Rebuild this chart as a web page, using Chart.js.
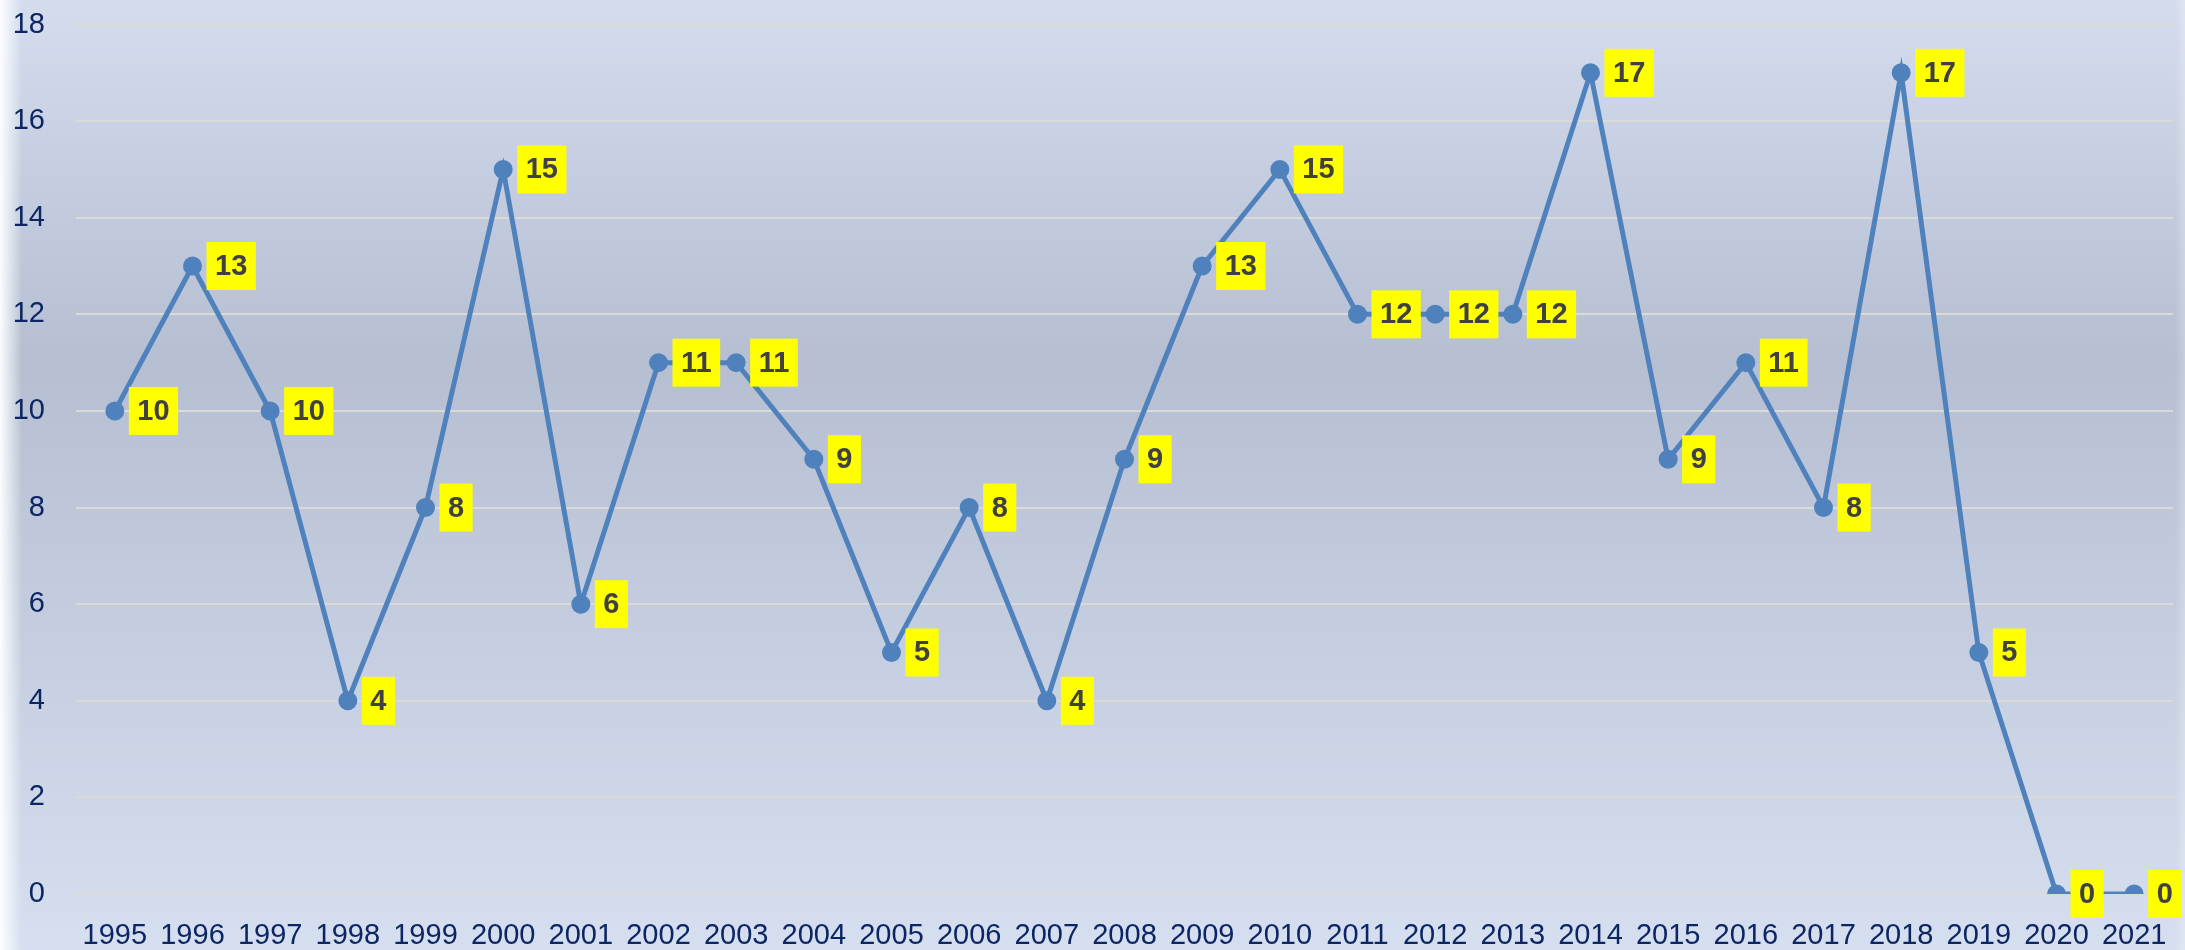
<!DOCTYPE html>
<html>
<head>
<meta charset="utf-8">
<script src="https://cdn.jsdelivr.net/npm/chart.js@4"></script>
<style>
  html, body { margin: 0; padding: 0; background: #d3dcec; }
  #wrap { width: 2185px; height: 950px; position: relative; }
</style>
</head>
<body>
<div id="wrap"><canvas id="lineChart" width="2185" height="950"></canvas></div>
<script>
const years = ['1995', '1996', '1997', '1998', '1999', '2000', '2001', '2002', '2003', '2004',
  '2005', '2006', '2007', '2008', '2009', '2010', '2011', '2012', '2013', '2014',
  '2015', '2016', '2017', '2018', '2019', '2020', '2021'];
const counts = [10, 13, 10, 4, 8, 15, 6, 11, 11, 9, 5, 8, 4, 9, 13, 15, 12, 12, 12, 17, 9, 11, 8, 17, 5, 0, 0];
const yTicks = [0, 2, 4, 6, 8, 10, 12, 14, 16, 18];

// background: vertical gradient + white fade on the left edge
const backgroundPlugin = {
  id: 'bg',
  beforeDraw(chart) {
    const ctx = chart.ctx;
    const w = chart.width, h = chart.height;
    ctx.save();
    const g = ctx.createLinearGradient(0, 0, 0, h);
    g.addColorStop(0, '#d4dcee');
    g.addColorStop(0.38, '#b5bfd1');
    g.addColorStop(1, '#d6dff0');
    ctx.fillStyle = g;
    ctx.fillRect(0, 0, w, h);
    const e = ctx.createLinearGradient(0, 0, 22, 0);
    e.addColorStop(0, 'rgba(255,255,255,0.95)');
    e.addColorStop(1, 'rgba(255,255,255,0)');
    ctx.fillStyle = e;
    ctx.fillRect(0, 0, 22, h);
    const r = ctx.createLinearGradient(w - 10, 0, w, 0);
    r.addColorStop(0, 'rgba(255,255,255,0)');
    r.addColorStop(1, 'rgba(255,255,255,0.25)');
    ctx.fillStyle = r;
    ctx.fillRect(w - 10, 0, 10, h);
    ctx.restore();
  }
};

// yellow value boxes to the right of each point
const valueLabels = {
  id: 'valueLabels',
  afterDatasetsDraw(chart) {
    const ctx = chart.ctx;
    const meta = chart.getDatasetMeta(0);
    ctx.save();
    ctx.font = 'bold 29px "Liberation Sans", Arial, sans-serif';
    ctx.textBaseline = 'middle';
    ctx.textAlign = 'left';
    meta.data.forEach((pt, i) => {
      const txt = String(chart.data.datasets[0].data[i]);
      const tw = ctx.measureText(txt).width;
      const bx = pt.x + 14;
      const bw = tw + 17;
      const bh = 48;
      ctx.fillStyle = '#ffff00';
      ctx.fillRect(bx, pt.y - bh / 2, bw, bh);
      ctx.fillStyle = '#404040';
      ctx.fillText(txt, bx + 8.5, pt.y + 1);
    });
    ctx.restore();
  }
};

new Chart(document.getElementById('lineChart'), {
  type: 'line',
  data: {
    labels: years,
    datasets: [{
      data: counts,
      borderColor: '#4f81bd',
      backgroundColor: '#4f81bd',
      borderWidth: 5,
      pointRadius: 7,
      pointHoverRadius: 7,
      tension: 0
    }]
  },
  options: {
    responsive: false,
    animation: false,
    events: [],
    layout: { padding: { top: 24.5, right: 6, left: 0, bottom: 0 } },
    plugins: {
      legend: { display: false },
      tooltip: { enabled: false }
    },
    scales: {
      x: {
        offset: true,
        grid: { display: false, drawTicks: false },
        border: { display: false },
        ticks: {
          color: '#0c2663',
          font: { family: '"Liberation Sans", Arial, sans-serif', size: 29 },
          padding: 25,
          maxRotation: 0,
          autoSkip: false
        },
        afterFit(scale) {
          scale.height = 56;
          scale.paddingLeft = 0;
          scale.paddingRight = 0;
        }
      },
      y: {
        min: 0,
        max: 18,
        afterBuildTicks(scale) { scale.ticks = yTicks.map(v => ({ value: v })); },
        grid: { color: '#dcdad6', lineWidth: 2, drawTicks: false },
        border: { display: false },
        ticks: {
          color: '#0c2663',
          font: { family: '"Liberation Sans", Arial, sans-serif', size: 29 },
          padding: 31
        },
        afterFit(scale) {
          scale.width = 76;
          scale.paddingTop = 0;
          scale.paddingBottom = 0;
        }
      }
    }
  },
  plugins: [backgroundPlugin, valueLabels]
});
</script>
</body>
</html>
